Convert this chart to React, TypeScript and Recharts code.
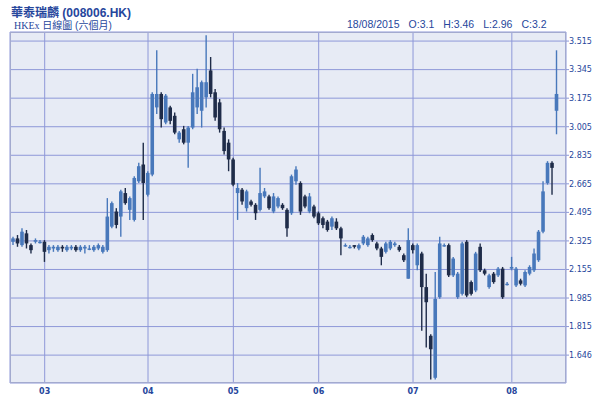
import { ComposedChart, Bar, XAxis, YAxis, CartesianGrid } from "recharts";

// daily candles, mid Feb 2015 -> 18/08/2015
const OPEN = [
  2.32, 2.34, 2.30, 2.37, 2.30, 2.32, 2.32,
  2.32, 2.27, 2.28, 2.27, 2.29, 2.27, 2.28, 2.29, 2.27, 2.28, 2.28, 2.27, 2.28, 2.26, 2.27, 2.41, 2.50, 2.47, 2.61, 2.51, 2.45, 2.68,
  2.78, 2.60, 2.72, 3.12, 3.20, 3.03, 3.12, 3.07, 2.93, 2.99, 2.91, 3.00, 3.12, 3.10, 3.18, 3.34, 3.21, 3.15, 2.98,
  2.91, 2.81, 2.61, 2.63, 2.52, 2.56, 2.54, 2.51, 2.59, 2.59, 2.50, 2.53, 2.54, 2.51, 2.49, 2.68, 2.67, 2.59, 2.50,
  2.53, 2.49, 2.46, 2.44, 2.41, 2.44, 2.40, 2.30, 2.29, 2.30, 2.28, 2.31, 2.30, 2.36, 2.31, 2.28, 2.26, 2.28, 2.30, 2.29, 2.24, 2.10,
  2.30, 2.18, 2.25, 2.05, 1.76, 1.51, 1.99, 2.30, 2.30, 2.12, 1.99, 2.01, 2.32, 2.08, 2.03, 2.29, 2.15, 2.05, 2.13, 2.12, 2.16, 2.07,
  2.16, 2.06, 2.09, 2.06, 2.13, 2.15, 2.21, 2.38, 2.67, 2.79, 3.10,
];
const HIGH = [
  2.35, 2.36, 2.40, 2.39, 2.31, 2.34, 2.33,
  2.33, 2.30, 2.30, 2.30, 2.30, 2.30, 2.30, 2.30, 2.30, 2.30, 2.30, 2.30, 2.31, 2.30, 2.58, 2.56, 2.52, 2.63, 2.64, 2.59, 2.71, 2.79,
  2.91, 2.74, 3.21, 3.46, 3.21, 3.20, 3.13, 3.09, 2.98, 3.01, 3.01, 3.32, 3.35, 3.28, 3.55, 3.42, 3.23, 3.17, 3.00,
  2.93, 2.82, 2.67, 2.64, 2.63, 2.57, 2.55, 2.76, 2.64, 2.60, 2.61, 2.59, 2.55, 2.52, 2.72, 2.77, 2.68, 2.60, 2.61,
  2.54, 2.50, 2.47, 2.45, 2.47, 2.46, 2.41, 2.31, 2.30, 2.30, 2.31, 2.36, 2.35, 2.37, 2.32, 2.29, 2.32, 2.33, 2.32, 2.30, 2.25, 2.40,
  2.31, 2.31, 2.26, 2.13, 1.77, 2.14, 2.35, 2.31, 2.31, 2.23, 2.14, 2.32, 2.33, 2.09, 2.26, 2.31, 2.16, 2.13, 2.14, 2.17, 2.17, 2.08,
  2.23, 2.17, 2.10, 2.15, 2.18, 2.28, 2.39, 2.68, 2.80, 2.80, 3.46,
];
const LOW = [
  2.30, 2.29, 2.29, 2.28, 2.25, 2.31, 2.31,
  2.20, 2.25, 2.26, 2.26, 2.26, 2.26, 2.27, 2.26, 2.26, 2.25, 2.27, 2.26, 2.27, 2.25, 2.26, 2.40, 2.40, 2.35, 2.54, 2.45, 2.44, 2.67,
  2.45, 2.59, 2.71, 3.08, 3.00, 3.02, 3.02, 2.96, 2.91, 2.90, 2.76, 2.99, 3.08, 3.00, 3.12, 3.18, 3.04, 2.97, 2.84,
  2.74, 2.65, 2.45, 2.54, 2.50, 2.53, 2.45, 2.50, 2.58, 2.51, 2.49, 2.52, 2.51, 2.35, 2.48, 2.66, 2.48, 2.52, 2.49,
  2.46, 2.42, 2.40, 2.38, 2.39, 2.39, 2.24, 2.29, 2.28, 2.28, 2.27, 2.30, 2.29, 2.32, 2.27, 2.18, 2.25, 2.27, 2.29, 2.26, 2.20, 2.10,
  2.25, 2.15, 1.79, 1.69, 1.50, 1.50, 1.98, 2.29, 2.11, 2.11, 1.98, 2.00, 1.99, 2.00, 2.02, 2.14, 2.12, 2.04, 2.07, 2.11, 1.98, 2.06,
  2.15, 2.05, 2.06, 2.05, 2.12, 2.14, 2.20, 2.37, 2.66, 2.60, 2.96,
];
const CLOSE = [
  2.34, 2.31, 2.38, 2.31, 2.27, 2.33, 2.32,
  2.26, 2.29, 2.29, 2.29, 2.28, 2.29, 2.29, 2.27, 2.29, 2.29, 2.28, 2.29, 2.30, 2.29, 2.47, 2.55, 2.42, 2.62, 2.55, 2.58, 2.70, 2.77,
  2.67, 2.73, 3.20, 3.20, 3.05, 3.19, 3.04, 2.97, 2.97, 2.91, 3.00, 3.21, 3.24, 3.27, 3.27, 3.20, 3.06, 2.99, 2.86,
  2.81, 2.66, 2.64, 2.56, 2.62, 2.54, 2.49, 2.61, 2.62, 2.52, 2.59, 2.58, 2.52, 2.40, 2.71, 2.75, 2.50, 2.53, 2.59,
  2.47, 2.43, 2.42, 2.39, 2.46, 2.40, 2.34, 2.30, 2.29, 2.29, 2.30, 2.35, 2.34, 2.33, 2.28, 2.23, 2.31, 2.32, 2.31, 2.27, 2.21, 2.33,
  2.27, 2.30, 2.05, 1.96, 1.68, 1.98, 2.31, 2.30, 2.12, 2.22, 2.13, 2.31, 2.00, 2.01, 2.25, 2.15, 2.13, 2.12, 2.08, 2.16, 1.99, 2.07,
  2.17, 2.16, 2.07, 2.14, 2.17, 2.25, 2.38, 2.62, 2.79, 2.76, 3.20,
];

// first trading day of each month (index into the candles)
const MONTH_TICKS = [7, 30, 49, 68, 89, 111];
const MONTH_LABELS = ["03", "04", "05", "06", "07", "08"];

const Y_TICKS = [1.645, 1.815, 1.985, 2.155, 2.325, 2.495, 2.665, 2.835, 3.005, 3.175, 3.345, 3.515];
const Y_LABELS = ["1.646", "1.815", "1.985", "2.155", "2.325", "2.495", "2.665", "2.835", "3.005", "3.175", "3.345", "3.515"];

const data = OPEN.map((o, i) => ({ i, open: o, high: HIGH[i], low: LOW[i], close: CLOSE[i] }));

const UP = "#4878bb";
const DOWN = "#1f2c49";
const TEXT = "#26469c";
const GRID = "#8e98d8";

const Candle = (props: any) => {
  const { x, y, width, height, payload } = props;
  const { open, close, high, low } = payload;
  const top = Math.min(y, y + height);
  const h = Math.abs(height);
  const color = close >= open ? UP : DOWN;
  const k = high === low ? 0 : h / (high - low);
  const yo = top + (high - open) * k;
  const yc = top + (high - close) * k;
  const cx = x + width / 2;
  return (
    <g>
      <line x1={cx} x2={cx} y1={top} y2={top + h} stroke={color} strokeWidth={1.4} />
      <rect x={cx - 1.8} y={Math.min(yo, yc)} width={3.6} height={Math.max(1.4, Math.abs(yo - yc))} fill={color} />
    </g>
  );
};

export default function App() {
  return (
    <div style={{ position: "absolute", left: 0, top: 0, width: 605, height: 404, background: "#fff", fontFamily: "'Liberation Sans', 'Noto Sans CJK TC', sans-serif" }}>
      <div style={{ position: "absolute", left: 11, top: 3, fontSize: 12, fontWeight: "bold", color: TEXT }}>
        華泰瑞麟 (008006.HK)
      </div>
      <div style={{ position: "absolute", left: 14, top: 17, fontSize: 10, color: TEXT }}>
        <span style={{ fontFamily: "'Liberation Serif', serif" }}>HKEx</span> 日線圖 (六個月)
      </div>
      <div style={{ position: "absolute", left: 347, top: 18, fontSize: 10.5, color: TEXT, display: "flex", gap: 9 }}>
        <span>18/08/2015</span>
        <span>O:3.1</span>
        <span>H:3.46</span>
        <span>L:2.96</span>
        <span>C:3.2</span>
      </div>
      <ComposedChart width={605} height={404} data={data} margin={{ top: 32, right: 0, left: 10, bottom: 0 }} barCategoryGap={0}>
        <CartesianGrid stroke={GRID} fill="#e7ebf5" fillOpacity={1} />
        <XAxis
          dataKey="i"
          type="category"
          ticks={MONTH_TICKS}
          interval={0}
          tickFormatter={(v: number) => MONTH_LABELS[MONTH_TICKS.indexOf(v)]}
          height={21}
          padding={{ left: 1, right: 7 }}
          axisLine={false}
          tickLine={false}
          tickSize={0}
          tickMargin={5}
          tick={{ fill: TEXT, fontSize: 8, fontWeight: "bold", fontFamily: "'DejaVu Sans', sans-serif" }}
        />
        <YAxis
          orientation="right"
          type="number"
          domain={[1.479, 3.569]}
          ticks={Y_TICKS}
          interval={0}
          allowDataOverflow
          tickFormatter={(v: number) => Y_LABELS[Y_TICKS.indexOf(v)]}
          width={39}
          axisLine={false}
          tickLine={{ stroke: GRID }}
          tickSize={3}
          tickMargin={0}
          tick={{ fill: TEXT, fontSize: 8, fontFamily: "'DejaVu Sans', sans-serif" }}
        />
        <Bar dataKey={(d: any) => [d.low, d.high]} shape={<Candle />} isAnimationActive={false} />
      </ComposedChart>
      <div style={{ position: "absolute", left: 10, top: 32, width: 556, height: 351, border: "1px solid #a3aacf", boxSizing: "border-box", pointerEvents: "none" }} />
    </div>
  );
}
